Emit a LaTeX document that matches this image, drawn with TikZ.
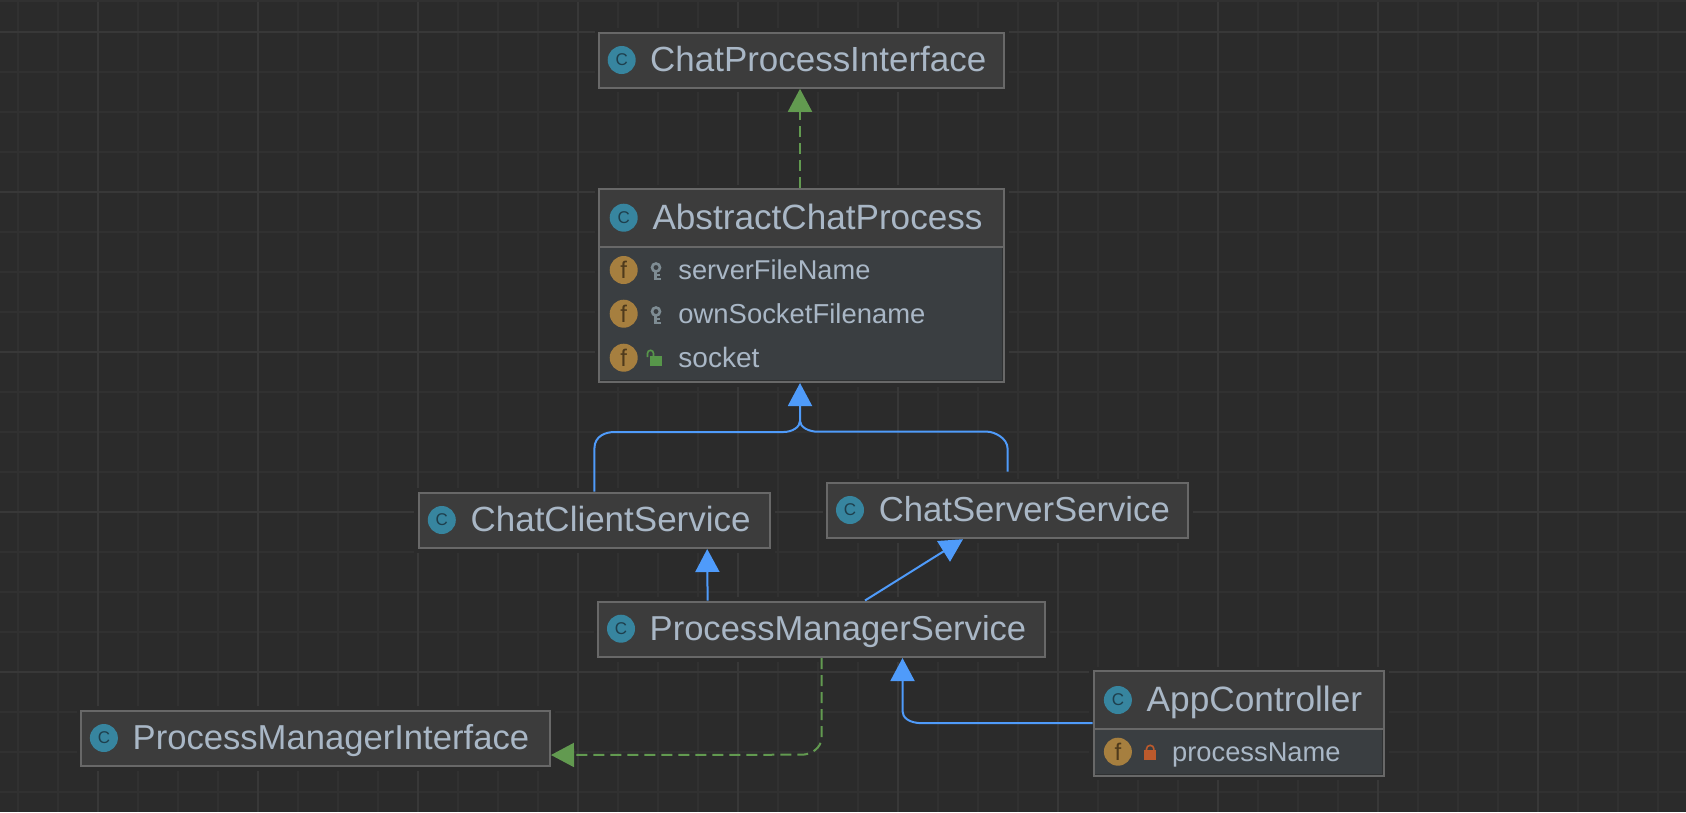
\documentclass[tikz,border=0pt]{standalone}
\usepackage{fontspec}
\setmainfont{Liberation Sans}
\usetikzlibrary{arrows.meta,calc}
\definecolor{bgc}{HTML}{2B2B2B}
\definecolor{gridmin}{HTML}{313131}
\definecolor{gridmaj}{HTML}{383838}
\definecolor{titlefill}{HTML}{3C3C3C}
\definecolor{fieldfill}{HTML}{3A3E41}
\definecolor{edgec}{HTML}{686868}
\definecolor{txt}{HTML}{A9B7C6}
\definecolor{teal}{HTML}{37859F}
\definecolor{tealdark}{HTML}{1E3F4D}
\definecolor{gold}{HTML}{A67F3F}
\definecolor{golddark}{HTML}{4E3A1C}
\definecolor{keyc}{HTML}{7E8C93}
\definecolor{lockg}{HTML}{57964A}
\definecolor{lockr}{HTML}{BD5A2C}
\definecolor{implg}{HTML}{629A50}
\definecolor{extb}{HTML}{4F9BFA}
\tikzset{
  boxnode/.style={draw=edgec,line width=2pt,fill=titlefill,inner sep=0pt,anchor=north west,
    preaction={draw=bgc,line width=9pt}},
  fieldpart/.style={fill=fieldfill},
  seppart/.style={draw=edgec,line width=2pt},
  classicon/.style={circle,fill=teal,inner sep=0pt,minimum size=28pt,text=tealdark,
    font=\fontsize{17}{17}\selectfont},
  fieldicon/.style={circle,fill=gold,inner sep=0pt,minimum size=28pt,text=golddark,
    font=\fontsize{24}{24}\selectfont},
  label/.style={anchor=base west,inner sep=0pt,text=txt},
  extends/.style={draw=extb,line width=2pt,-{Triangle[length=23pt,width=24pt,fill=extb]}},
  extline/.style={draw=extb,line width=2pt},
  implements/.style={draw=implg,line width=2pt,dash pattern=on 11pt off 6pt,
    -{Triangle[length=23pt,width=24pt,fill=implg]}},
}
\newcommand{\fitted}[3]{\resizebox{#1pt}{!}{\fontsize{#2}{#2}\selectfont\strut #3}}
\begin{document}
\begin{tikzpicture}[x=1pt,y=-1pt]
\useasboundingbox (0,0) rectangle (1686,812);
\fill[bgc] (0,0) rectangle (1686,812);
% grid
\fill[gridmin] (0,0) rectangle (1686,2);
\foreach \gx in {18,58,...,1680} \draw[gridmin,line width=1.6pt] (\gx,2) -- (\gx,812);
\foreach \gy in {72,112,...,800} \draw[gridmin,line width=1.6pt] (0,\gy) -- (1686,\gy);
\foreach \gx in {98,258,...,1680} \draw[gridmaj,line width=2pt] (\gx,2) -- (\gx,812);
\foreach \gy in {32,192,...,800} \draw[gridmaj,line width=2pt] (0,\gy) -- (1686,\gy);

% boxes
\node[boxnode,minimum width=405pt,minimum height=55.2pt] (cpi) at (598,31.6) {};
\node[boxnode,minimum width=405pt,minimum height=193pt] (abs) at (598,188) {};
\fill[fieldpart] ([shift={(2,59)}]abs.north west) rectangle ([shift={(-2,-2)}]abs.south east);
\draw[seppart] ([shift={(1,59)}]abs.north west) -- ([shift={(-1,59)}]abs.north east);
\draw[bgc!70!fieldfill,line width=1pt] ([shift={(-2.5,60)}]abs.north east) -- ([shift={(-2.5,-2.5)}]abs.south east) -- ([shift={(2,-2.5)}]abs.south west);
\node[boxnode,minimum width=351.5pt,minimum height=55.5pt] (client) at (417.5,491.5) {};
\node[boxnode,minimum width=361pt,minimum height=55pt] (server) at (826,482.2) {};
\node[boxnode,minimum width=447pt,minimum height=55.5pt] (pms) at (597,600.5) {};
\node[boxnode,minimum width=469pt,minimum height=55.5pt] (pmi) at (80,709.5) {};
\node[boxnode,minimum width=290.5pt,minimum height=104.5pt] (app) at (1092.5,670.2) {};
\fill[fieldpart] ([shift={(2,58.8)}]app.north west) rectangle ([shift={(-2,-2)}]app.south east);
\draw[seppart] ([shift={(1,58.8)}]app.north west) -- ([shift={(-1,58.8)}]app.north east);
\draw[bgc!70!fieldfill,line width=1pt] ([shift={(-2.5,59.8)}]app.north east) -- ([shift={(-2.5,-2.5)}]app.south east) -- ([shift={(2,-2.5)}]app.south west);

% class icons
\node[classicon] (i1) at (621.7,60) {C};
\node[classicon] (i2) at (623.7,217.7) {C};
\node[classicon] (i3) at (441.8,520) {C};
\node[classicon] (i4) at (850,510) {C};
\node[classicon] (i5) at (621,628.7) {C};
\node[classicon] (i6) at (103.9,738) {C};
\node[classicon] (i7) at (1117.9,700) {C};
% field icons
\node[fieldicon] (f1) at (623.7,270) {f};
\node[fieldicon] (f2) at (623.7,313.7) {f};
\node[fieldicon] (f3) at (623.7,357.7) {f};
\node[fieldicon] (f4) at (1117.9,751.7) {f};

% labels
\node[label] (t1) at (650,71) {\fitted{336}{30}{ChatProcessInterface}};
\node[label] (t2) at (652.3,229.3) {\fitted{330}{30}{AbstractChatProcess}};
\node[label] (t3) at (470.4,531.7) {\fitted{280}{30}{ChatClientService}};
\node[label] (t4) at (878.6,521.7) {\fitted{291}{30}{ChatServerService}};
\node[label] (t5) at (649.5,640.7) {\fitted{376.5}{30}{ProcessManagerService}};
\node[label] (t6) at (132.5,749) {\fitted{396.4}{30}{ProcessManagerInterface}};
\node[label] (t7) at (1146.5,711) {\fitted{215.4}{30}{AppController}};
\node[label] (l1) at (678.2,279.3) {\fitted{192}{25}{serverFileName}};
\node[label] (l2) at (678.2,323) {\fitted{247}{25}{ownSocketFilename}};
\node[label] (l3) at (678.2,367.7) {\fitted{81}{25}{socket}};
\node[label] (l4) at (1172,761.7) {\fitted{168.4}{25}{processName}};

% key icons
\foreach \ky in {262,306}{
  \draw[keyc,line width=2.6pt] (656,\ky+5.5) circle (4);
  \fill[keyc] (654,\ky+10) rectangle (657.4,\ky+18);
  \fill[keyc] (654,\ky+15.6) rectangle (661,\ky+18);
  \fill[keyc] (654,\ky+12) rectangle (660,\ky+14);
}
% open lock
\fill[lockg] (650,356) rectangle (662,366);
\draw[lockg,line width=1.6pt] (647.5,357) -- (647.5,353.3) arc[start angle=180,end angle=360,radius=3] -- (653.5,356);
% closed lock
\fill[lockr] (1144,750) rectangle (1156.4,760);
\draw[lockr,line width=1.6pt] (1146.5,750) -- (1146.5,749) arc[start angle=180,end angle=360,radius=3.7] -- (1153.9,750);

% connectors
\draw[implements] ([xshift=202pt]abs.north west) -- ([xshift=202pt]cpi.south west);
\draw[extends] ([xshift=176.9pt]client.north west) -- ++(0,-43)
  .. controls +(0,-13) and +(-8,0) .. ++(20,-16.5) -- ++(169,0)
  .. controls +(9,0) and +(0,6) .. ([shift={(202,38)}]abs.south west)
  -- ([xshift=202pt]abs.south west);
\draw[extline] ([shift={(181.6,-10.5)}]server.north west) -- ++(0,-23)
  .. controls +(0,-11) and +(6,0) .. ++(-20,-17) -- ++(-170,0)
  .. controls +(-9,0) and +(0,6) .. ([shift={(202,38)}]abs.south west);
\draw[extends] ([xshift=110.6pt]pms.north west) -- ([xshift=289.7pt]client.south west);
\draw[extends] ([xshift=268pt]pms.north west) -- ([xshift=137pt]server.south west);
\draw[implements] ([xshift=224.7pt]pms.south west) -- ++(0,79)
  .. controls +(0,12) and +(8,0) .. ++(-20,17.7)
  -- ([yshift=12pt]pmi.south east);
\draw[extends] ([yshift=-53pt]app.north west) -- ++(-170,0)
  .. controls +(-14,0) and +(0,6) .. ++(-20,-12) -- ([xshift=305.5pt]pms.south west);
\end{tikzpicture}
\end{document}
